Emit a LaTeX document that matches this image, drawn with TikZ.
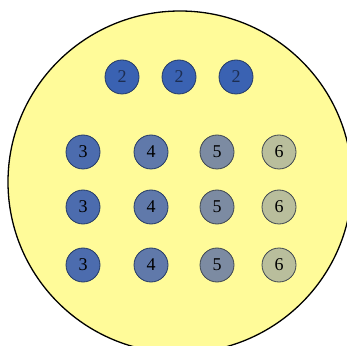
\documentclass[tikz,border=0pt]{standalone}
\usepackage{fontspec}
\setmainfont{Liberation Serif}
\definecolor{bgyellow}{HTML}{FFFB99}
\definecolor{ctwo}{HTML}{3A62B2}
\definecolor{cthree}{HTML}{4C6CAE}
\definecolor{cfour}{HTML}{6079AA}
\definecolor{cfive}{HTML}{7C8BA2}
\definecolor{csix}{HTML}{B9BE9C}
\definecolor{edgedark}{HTML}{243A66}
\definecolor{edgegray}{HTML}{3E4650}
\tikzset{
  ball/.style={circle, minimum size=34pt, inner sep=0pt, line width=0.8pt, font=\fontsize{18}{18}\selectfont},
}
\begin{document}
\begin{tikzpicture}[x=1pt,y=1pt]
\useasboundingbox (0,0) rectangle (347,345);
\begin{scope}
\clip (0,0) rectangle (347,345);
\draw[fill=bgyellow, line width=1.3pt] (180,163) ellipse [x radius=172, y radius=171];
\end{scope}
\node[ball, fill=ctwo, draw=edgedark, text=edgedark!80!black] (a1) at (122,268) {2};
\node[ball, fill=ctwo, draw=edgedark, text=edgedark!80!black] (a2) at (179,268) {2};
\node[ball, fill=ctwo, draw=edgedark, text=edgedark!80!black] (a3) at (236,268) {2};
\foreach \r/\y in {1/193, 2/138, 3/80}{
  \node[ball, fill=cthree, draw=edgedark] (b\r) at (83,\y) {3};
  \node[ball, fill=cfour, draw=edgedark] (c\r) at (151,\y) {4};
  \node[ball, fill=cfive, draw=edgegray] (d\r) at (217,\y) {5};
  \node[ball, fill=csix, draw=edgegray] (e\r) at (279,\y) {6};
}
\end{tikzpicture}
\end{document}
